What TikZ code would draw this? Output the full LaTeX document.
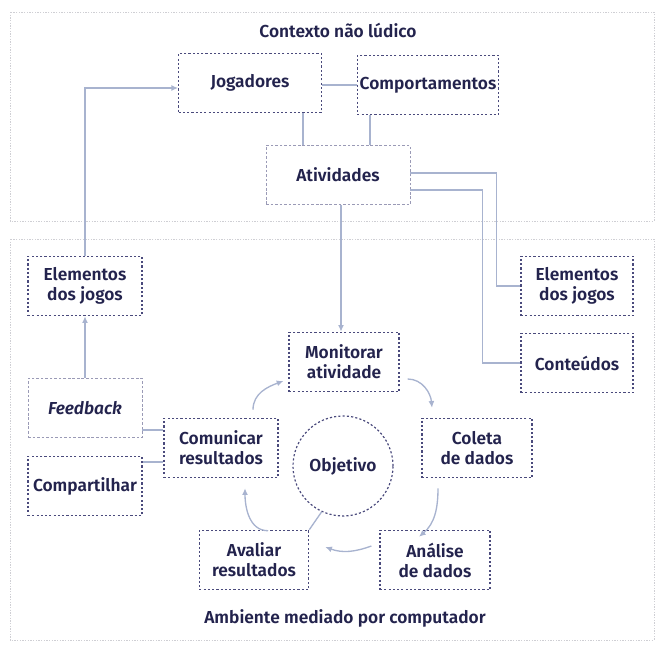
\documentclass[tikz,border=0pt]{standalone}
\usepackage{fontspec}
\setmainfont{Fira Sans}[UprightFont={* SemiBold}, ItalicFont={* SemiBold Italic}]
\usetikzlibrary{arrows.meta,calc}

\definecolor{ink}{HTML}{23234D}
\definecolor{boxdark}{HTML}{4A4A7C}
\definecolor{boxlight}{HTML}{9A9AB6}
\definecolor{linkc}{HTML}{A8B3CF}
\definecolor{framec}{HTML}{CFCFD4}

\begin{document}
\begin{tikzpicture}[x=0.75pt, y=0.75pt,
	txt/.style={text=ink, font=\fontsize{13}{15}\selectfont, align=center},
	box/.style={txt, draw=boxdark, line width=0.9pt, dash pattern=on 1.6pt off 1.6pt,
		minimum width=#1, minimum height=44.5pt, inner sep=0pt},
	lightbox/.style={box=#1, draw=boxlight, line width=0.6pt, dash pattern=on 2pt off 1.4pt},
	frame/.style={draw=framec, line width=0.5pt, dash pattern=on 1pt off 1pt},
	link/.style={draw=linkc, line width=1pt},
	arr/.style={link, -{Latex[length=5pt,width=4.5pt]}}]
	\useasboundingbox (0,0) rectangle (665,651);

	% Frames
	\draw[frame] (10,639) rectangle (654,430);
	\draw[frame] (10,412) rectangle (654,11);
	\node[txt] (ctx) at (338,621) {Contexto não lúdico};
	\node[txt] (amb) at (345,33) {Ambiente mediado por computador};

	% Define nodes
	\node[box=107pt] (jog) at (250,568) {Jogadores};
	\node[box=106pt] (comp) at (428,566) {Comportamentos};
	\node[lightbox=108pt] (ativ) at (338,476) {Atividades};
	\node[box=85.5pt] (eleml) at (85,365) {Elementos\\dos jogos};
	\node[box=84pt] (elemr) at (577,365) {Elementos\\dos jogos};
	\node[box=84pt] (cont) at (577,288) {Conteúdos};
	\node[lightbox=85.5pt] (fb) at (85,243) {\itshape Feedback};
	\node[box=85.5pt] (share) at (85,165) {Compartilhar};
	\node[box=85.5pt] (com) at (221,203) {Comunicar\\resultados};
	\node[box=82.5pt] (mon) at (344,289) {Monitorar\\atividade};
	\node[box=82.5pt] (col) at (477,203) {Coleta\\de dados};
	\node[box=82.5pt] (ana) at (435,91) {Análise\\de dados};
	\node[box=82pt] (ava) at (254,91) {Avaliar\\resultados};
	\node[txt, circle, draw=boxdark, line width=0.9pt, dash pattern=on 1.6pt off 1.6pt,
		minimum size=75pt, inner sep=0pt] (obj) at (343,185) {Objetivo};

	% Helper points
	\coordinate (jb) at ($(jog.south)+(53,0)$);
	\coordinate (cb) at ($(comp.south)+(-58,0)$);
	\coordinate (ab) at ($(ativ.south)+(3,0)$);
	\coordinate (ar1) at ($(ativ.east)+(0,2)$);
	\coordinate (ar2) at ($(ativ.east)+(0,-15)$);
	\coordinate (fb1) at ($(fb.east)+(0,-22)$);
	\coordinate (sh1) at ($(share.east)+(0,24)$);

	% Draw edges
	\draw[link] (comp.west -| jog.east) -- (comp.west);
	\draw[link] (jb) -- (jb |- ativ.north);
	\draw[link] (cb) -- (cb |- ativ.north);
	\draw[link] (ar1) -| ($(elemr.west)+(-24,0)$) -- (elemr.west);
	\draw[link] (ar2) -| ($(cont.west)+(-38,0)$) -- (cont.west);
	\draw[arr] (ab) -- (ab |- mon.north);
	\draw[arr] (eleml.north) |- ($(jog.west)+(0,-5)$);
	\draw[arr] (fb.north) -- (eleml.south);
	\draw[link] (fb1) -- (fb1 -| com.west);
	\draw[link] (sh1) -- (sh1 -| com.west);
	\draw[link] (obj.245) -- (ava.north east);

	% Cycle
	\draw[arr] ($(com.north)+(32,8)$) to[out=90, in=200] ($(mon.west)+(-5,-19)$);
	\draw[arr] ($(mon.east)+(8,-17)$) to[out=0, in=95] ($(col.north)+(-45,10)$);
	\draw[arr] ($(col.south)+(-39,-10)$) to[out=270, in=40] ($(ana.north)+(-16,-7)$);
	\draw[arr] ($(ana.west)+(-8,14)$) to[out=200, in=-20] ($(ava.east)+(16,13)$);
	\draw[arr] ($(ava.north)+(14,-1)$) to[out=180, in=270] ($(com.south)+(24,-10)$);
\end{tikzpicture}
\end{document}
